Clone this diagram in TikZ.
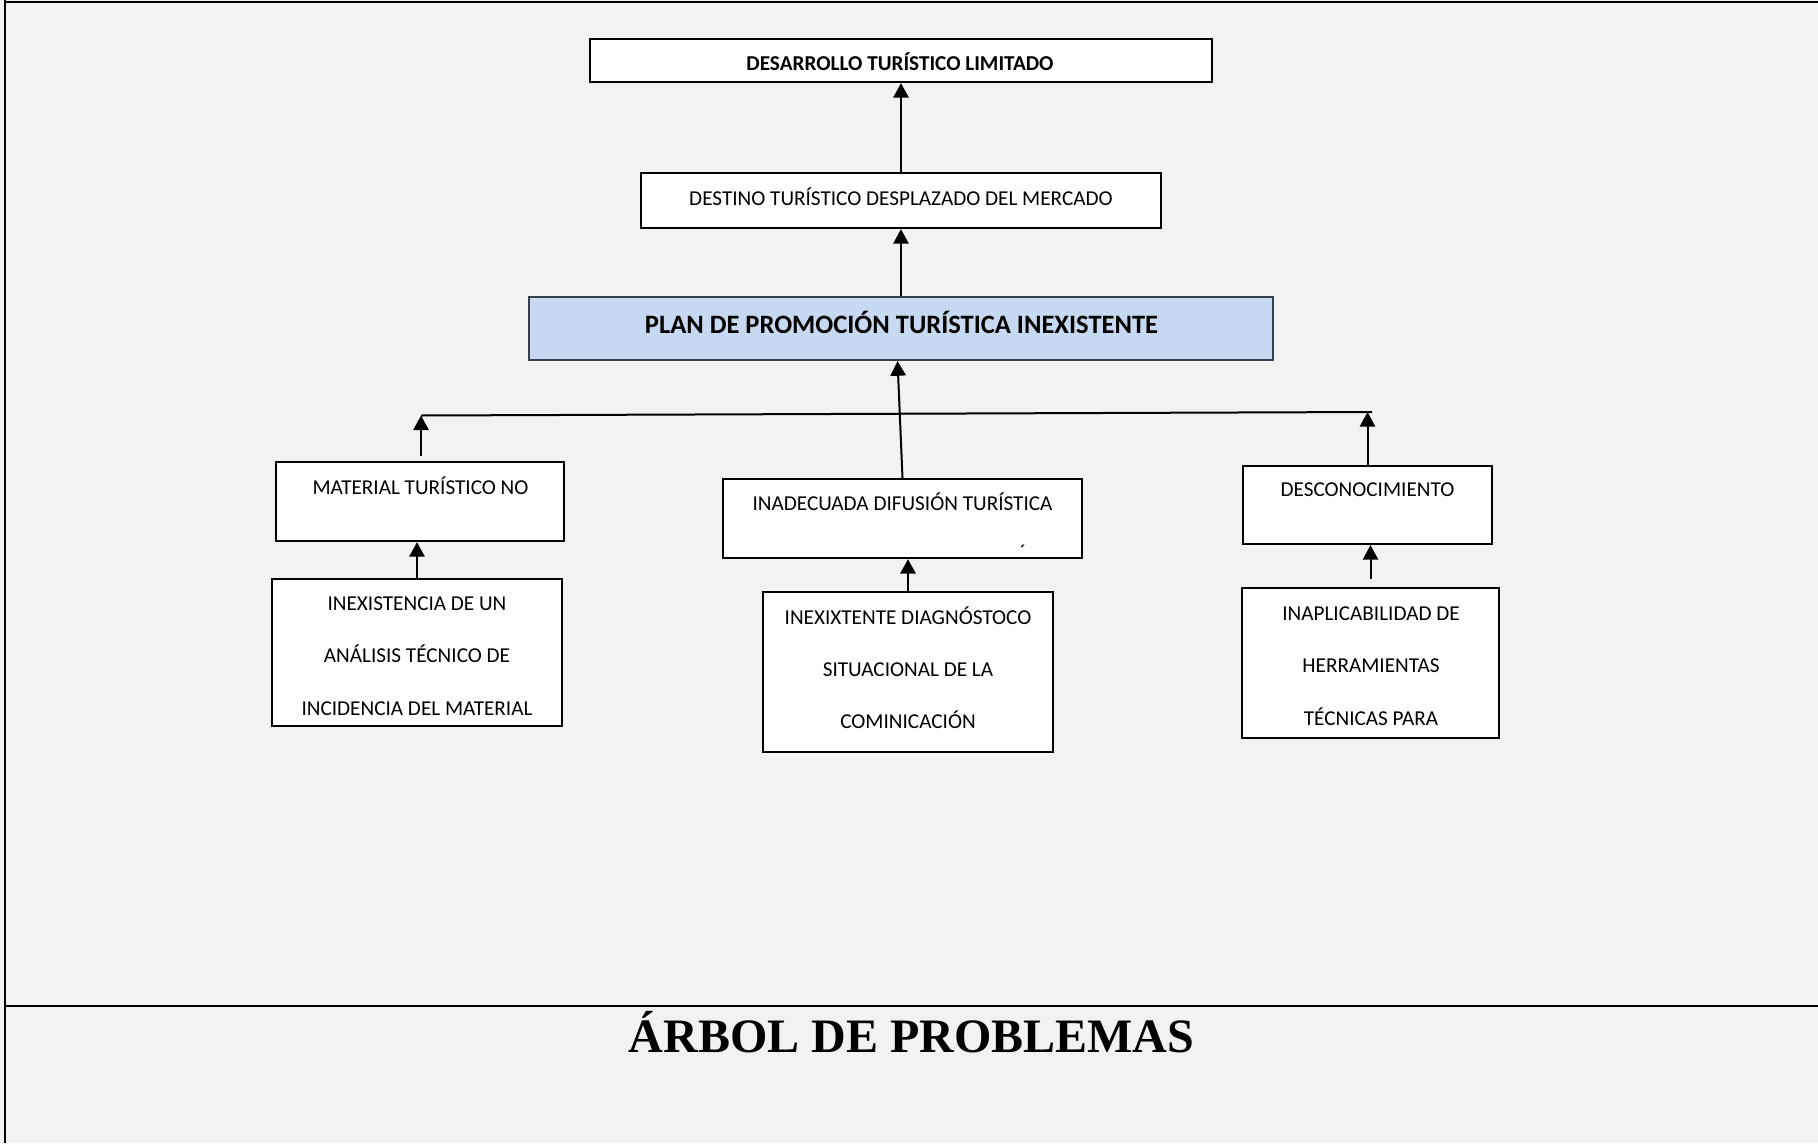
\documentclass[tikz,border=0pt]{standalone}
\usepackage{fontspec}
\setmainfont{Carlito}
\newfontfamily\titlefont{Liberation Serif}
\usetikzlibrary{arrows.meta,calc}
\definecolor{bg}{HTML}{F2F2F2}
\definecolor{planblue}{HTML}{C6D9F0}
\definecolor{planedge}{HTML}{37404F}
\begin{document}
\begin{tikzpicture}[x=0.75pt,y=-0.75pt,
  box/.style={draw=black, fill=white, line width=1.6pt, inner sep=0pt},
  lbl/.style={anchor=base, inner sep=0pt, font=\fontsize{15.9}{19}\selectfont},
  arr/.style={line width=1.5pt, -{Triangle[length=11pt,width=11.5pt]}},
  frameline/.style={line width=1.5pt}]
\fill[bg] (0,0) rectangle (1818,1143);
\useasboundingbox (0,0) rectangle (1818,1143);
% frame
\draw[frameline] (5,0) -- (5,1143);
\draw[frameline] (4.25,2) -- (1818,2);
\draw[frameline] (5,1006) -- (1818,1006);
% boxes
\node[box, minimum width=466.5pt, minimum height=32.25pt] (b1) at (901,60.5) {};
\node[box, minimum width=390pt, minimum height=41.25pt] (b2) at (901,200.5) {};
\node[box, fill=planblue, draw=planedge, minimum width=558pt, minimum height=47.25pt] (b3) at (901,328.5) {};
\node[box, minimum width=216pt, minimum height=59.25pt] (b4) at (420,501.5) {};
\node[box, minimum width=269.25pt, minimum height=59.25pt] (b5) at (902.5,518.5) {};
\node[box, minimum width=186.75pt, minimum height=58.5pt] (b6) at (1367.5,505) {};
\node[box, minimum width=217.5pt, minimum height=110.25pt] (b7) at (417,652.5) {};
\node[box, minimum width=217.5pt, minimum height=120pt] (b8) at (908,672) {};
\node[box, minimum width=192.75pt, minimum height=112.5pt] (b9) at (1370.5,663) {};
% texts
\node[lbl, font=\bfseries\fontsize{15.9}{19}\selectfont] (t1) at (900,70) {DESARROLLO TURÍSTICO LIMITADO};
\node[lbl] (t2) at (901,205) {DESTINO TURÍSTICO DESPLAZADO DEL MERCADO};
\node[lbl, font=\bfseries\fontsize{19.9}{24}\selectfont] (t3) at (901.5,333) {PLAN DE PROMOCIÓN TURÍSTICA INEXISTENTE};
\node[lbl] (t4) at (420.5,494) {MATERIAL TURÍSTICO NO};
\node[lbl] (t5) at (902.5,510) {INADECUADA DIFUSIÓN TURÍSTICA};
\node[lbl] (t5b) at (1023,559.5) {´};
\node[lbl] (t6) at (1367.5,496) {DESCONOCIMIENTO};
\node[lbl] (t7a) at (417,610) {INEXISTENCIA DE UN};
\node[lbl] (t7b) at (417,662) {ANÁLISIS TÉCNICO DE};
\node[lbl] (t7c) at (417,715) {INCIDENCIA DEL MATERIAL};
\node[lbl] (t8a) at (908,624) {INEXIXTENTE DIAGNÓSTOCO};
\node[lbl] (t8b) at (908,676) {SITUACIONAL DE LA};
\node[lbl] (t8c) at (908,728) {COMINICACIÓN};
\node[lbl] (t9a) at (1371,620) {INAPLICABILIDAD DE};
\node[lbl] (t9b) at (1371,672) {HERRAMIENTAS};
\node[lbl] (t9c) at (1371,725) {TÉCNICAS PARA};
\node[anchor=base, inner sep=0pt, font=\titlefont\bfseries\fontsize{36}{40}\selectfont] (title) at (911.5,1052) {ÁRBOL DE PROBLEMAS};
% connectors
\coordinate (hl) at (421,415.5);
\coordinate (hr) at (1372,412);
\draw[line width=1.5pt] (hl) -- (hr);
\draw[arr] (b2.north) -- (b1.south);
\draw[arr] (b3.north) -- (b2.south);
\draw[arr] (b5.north) -- ([xshift=-2.6pt]b3.south);
\draw[arr, shorten <=3.75pt] (b4.north -| hl) -- (hl);
\draw[arr] (b6.north) -- (b6.north |- hr);
\draw[arr] (b7.north) -- (b7.north |- b4.south);
\draw[arr] (b8.north) -- (b8.north |- b5.south);
\draw[arr, shorten <=6pt] (b9.north) -- (b9.north |- b6.south);
\end{tikzpicture}
\end{document}
